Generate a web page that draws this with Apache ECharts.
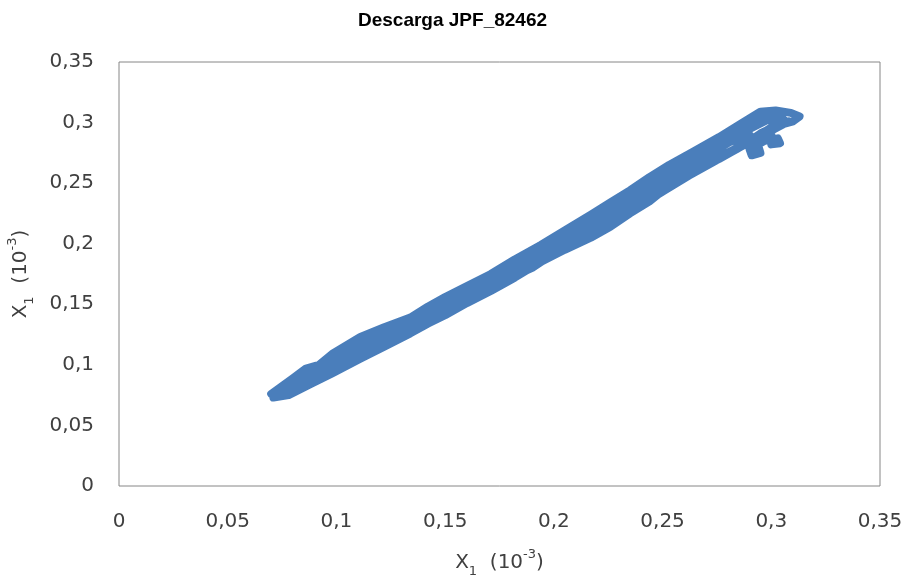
<!DOCTYPE html>
<html>
<head>
<meta charset="utf-8">
<script src="https://cdn.jsdelivr.net/npm/echarts@6/dist/echarts.min.js"></script>
<style>
  html, body { margin: 0; padding: 0; background: #fff; }
  #main { width: 905px; height: 577px; }
</style>
</head>
<body>
<div id="main"></div>
<script>
// trajectory, pass by pass (x, y) in units of 10^-3
var passA = [[0.070,0.076],[0.080,0.089],[0.086,0.097],[0.092,0.100],[0.098,0.109],[0.111,0.123],[0.122,0.131],[0.134,0.139],[0.142,0.148],[0.150,0.156],[0.160,0.165],[0.171,0.175],[0.182,0.187],[0.194,0.199],[0.205,0.211],[0.217,0.224],[0.226,0.234],[0.235,0.244],[0.244,0.255],[0.253,0.265],[0.264,0.276],[0.276,0.288],[0.286,0.299],[0.295,0.309],[0.302,0.310],[0.309,0.308],[0.313,0.305]];
var passB = [[0.310,0.301],[0.302,0.297],[0.295,0.291],[0.286,0.280],[0.276,0.270],[0.264,0.259],[0.253,0.248],[0.244,0.235],[0.235,0.225],[0.226,0.214],[0.217,0.205],[0.205,0.195],[0.194,0.185],[0.182,0.172],[0.171,0.161],[0.160,0.151],[0.150,0.141],[0.142,0.134],[0.134,0.126],[0.122,0.115],[0.111,0.105],[0.098,0.093],[0.088,0.084],[0.078,0.075],[0.071,0.073]];
var passC = [[0.074,0.078],[0.084,0.087],[0.093,0.095],[0.103,0.106],[0.115,0.117],[0.126,0.127],[0.138,0.137],[0.146,0.146],[0.155,0.154],[0.165,0.163],[0.176,0.174],[0.188,0.187],[0.199,0.197],[0.211,0.208],[0.222,0.218],[0.231,0.229],[0.240,0.240],[0.249,0.250],[0.259,0.262],[0.270,0.272],[0.281,0.284],[0.290,0.290],[0.294,0.281],[0.295,0.275],[0.291,0.273],[0.290,0.278],[0.297,0.285],[0.303,0.287],[0.304,0.283],[0.300,0.282],[0.300,0.293],[0.306,0.302]];
var passD = [[0.298,0.302],[0.288,0.293],[0.279,0.283],[0.268,0.272],[0.258,0.258],[0.248,0.250],[0.243,0.236],[0.239,0.233],[0.233,0.236],[0.224,0.226],[0.213,0.215],[0.202,0.203],[0.190,0.191],[0.179,0.178],[0.167,0.166],[0.156,0.157],[0.146,0.149],[0.136,0.138],[0.126,0.130],[0.116,0.120],[0.106,0.113],[0.096,0.102],[0.086,0.092],[0.078,0.082]];
var passE = [[0.080,0.079],[0.090,0.088],[0.101,0.098],[0.112,0.109],[0.124,0.119],[0.136,0.130],[0.148,0.141],[0.158,0.152],[0.168,0.160],[0.179,0.171],[0.190,0.180],[0.200,0.192],[0.210,0.201],[0.220,0.210],[0.230,0.222],[0.240,0.232],[0.250,0.246],[0.261,0.256],[0.272,0.268],[0.283,0.278],[0.292,0.287],[0.300,0.296],[0.308,0.301]];
var passF = [[0.072,0.077],[0.082,0.088],[0.092,0.099],[0.104,0.112],[0.116,0.123],[0.128,0.134],[0.139,0.143],[0.149,0.152],[0.159,0.162],[0.170,0.172],[0.181,0.184],[0.192,0.196],[0.203,0.208],[0.214,0.219],[0.224,0.230],[0.234,0.240],[0.244,0.251],[0.254,0.262],[0.265,0.273],[0.276,0.284],[0.287,0.295],[0.297,0.304],[0.305,0.306]];
var passG = [[0.304,0.297],[0.294,0.289],[0.284,0.278],[0.273,0.267],[0.262,0.256],[0.251,0.244],[0.241,0.233],[0.231,0.221],[0.221,0.211],[0.211,0.202],[0.200,0.193],[0.189,0.182],[0.178,0.170],[0.167,0.159],[0.156,0.149],[0.145,0.139],[0.134,0.129],[0.123,0.118],[0.112,0.107],[0.101,0.097],[0.091,0.087],[0.081,0.079],[0.073,0.074]];

var axisMax = 0.35;
var axisStep = 0.05;

var chart = echarts.init(document.getElementById('main'));

function tickText(v) {
  // decimal comma like the original
  return String(Math.round(v * 100) / 100).replace('.', ',');
}

var nameRich = {
  a: { fontFamily: 'DejaVu Sans', fontSize: 20, color: '#404040', lineHeight: 30, verticalAlign: 'middle' },
  sub: { fontFamily: 'DejaVu Sans', fontSize: 13, color: '#404040', lineHeight: 13, verticalAlign: 'bottom' },
  sup: { fontFamily: 'DejaVu Sans', fontSize: 13, color: '#404040', lineHeight: 13, verticalAlign: 'top' }
};
var axisTitle = '{a|X}{sub|1}{a|  (10}{sup|-3}{a|)}';

var option = {
  animation: false,
  title: {
    text: 'Descarga JPF_82462',
    left: 'center',
    top: 6,
    textStyle: { fontFamily: 'Liberation Sans', fontSize: 19, fontWeight: 'bold', color: '#000' }
  },
  grid: {
    left: 119, right: 25, top: 62, bottom: 91,
    outerBoundsMode: 'none',
    show: true, borderColor: '#868686', borderWidth: 1
  },
  xAxis: {
    type: 'value', min: 0, max: axisMax, interval: axisStep,
    name: axisTitle, nameLocation: 'middle', nameGap: 62,
    nameTextStyle: { rich: nameRich },
    axisLine: { show: false }, axisTick: { show: false }, splitLine: { show: false },
    axisLabel: { formatter: tickText, fontFamily: 'DejaVu Sans', fontSize: 20, color: '#404040', margin: 26 }
  },
  yAxis: {
    type: 'value', min: 0, max: axisMax, interval: axisStep,
    name: axisTitle, nameLocation: 'middle', nameGap: 83,
    nameTextStyle: { rich: nameRich },
    axisLine: { show: false }, axisTick: { show: false }, splitLine: { show: false },
    axisLabel: { formatter: tickText, fontFamily: 'DejaVu Sans', fontSize: 20, color: '#404040', margin: 25 }
  },
  series: [{
    type: 'line',
    data: passA.concat(passB, passC, passD, passE, passF, passG),
    showSymbol: false,
    smooth: false,
    lineStyle: { color: '#4a7ebb', width: 8, cap: 'round', join: 'round' }
  }]
};

chart.setOption(option);
</script>
</body>
</html>
